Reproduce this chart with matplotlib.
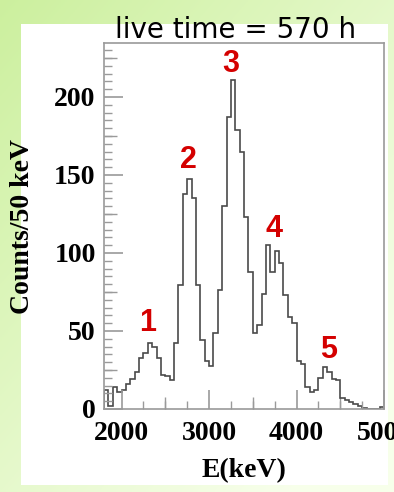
import numpy as np
import matplotlib
matplotlib.use('Agg')
import matplotlib.pyplot as plt
from matplotlib.ticker import MultipleLocator
from matplotlib.patches import Rectangle

# Histogram data: counts per 50 keV bin, 1800-5000 keV
bin_width = 50
e_min = 1800
counts = [12, 2, 14, 11, 12, 16, 19, 24, 32.5, 35.7,
          42, 40, 32.5, 21.5, 21, 18.6, 42.5, 79.5, 137.5, 147.5,
          135, 79.5, 44, 31, 27.6, 49, 76, 130, 187, 211,
          179, 165, 123, 88, 49, 54, 73.5, 105, 88, 101,
          93.4, 73, 59, 55, 31, 29, 14.3, 11, 12, 19.7,
          26.7, 24, 19.5, 18.5, 6.8, 5.8, 4.7, 3.2, 1.9, 0.6,
          0, 0, 0, 1]
edges = e_min + bin_width * np.arange(len(counts) + 1)

# Peak labels
peak_names = ['1', '2', '3', '4', '5']
peak_x = [2304, 2766, 3244, 3738, 4365]
peak_y = [55, 159.6, 221, 115.4, 37.8]

W, H = 394, 492
fig = plt.figure(figsize=(W / 100, H / 100), dpi=100)

# green gradient background
bg = fig.add_axes([0, 0, 1, 1], zorder=-10)
yy, xx = np.mgrid[0:1:200j, 0:1:200j]
t = np.clip(0.55 * xx + 0.6 * yy, 0, 1)[..., None]
c0 = np.array([0.80, 0.94, 0.62])
c1 = np.array([0.97, 1.0, 0.92])
bg.imshow(c0 * (1 - t) + c1 * t, extent=[0, 1, 0, 1], aspect='auto', origin='upper')
bg.add_patch(Rectangle((21 / W, 1 - 485 / H), (388 - 21) / W, (485 - 24) / H,
                       facecolor='white', edgecolor='none'))
bg.set_xlim(0, 1)
bg.set_ylim(0, 1)
bg.axis('off')

ax = fig.add_axes([104 / W, 1 - 409 / H, 280 / W, 366 / H])
ax.stairs(counts, edges, color='#4a4a4a', lw=1.2)

ax.set_xlim(1800, 5000)
ax.set_ylim(0, 234.6)

for s in ax.spines.values():
    s.set_color('#9a9a9a')
    s.set_linewidth(1.2)

serif = {'family': 'Liberation Serif', 'weight': 'bold', 'size': 20}
ax.xaxis.set_major_locator(MultipleLocator(1000))
ax.xaxis.set_minor_locator(MultipleLocator(250))
ax.yaxis.set_major_locator(MultipleLocator(50))
ax.yaxis.set_minor_locator(MultipleLocator(5))
ax.tick_params(which='both', direction='in', color='#9a9a9a', top=False, right=False)
ax.tick_params(which='major', length=14, width=1.2, pad=6)
ax.tick_params(which='minor', length=6, width=1.0)
ax.tick_params(axis='x', which='major', pad=9)
for lab in ax.get_xticklabels() + ax.get_yticklabels():
    lab.set_fontproperties(serif)

# medium ticks at 500 keV and 25 counts
secx = ax.secondary_xaxis('bottom')
secx.set_xticks([2500, 3500, 4500])
secx.tick_params(direction='in', length=9, width=1.0, color='#9a9a9a', labelbottom=False)
secx.spines['bottom'].set_visible(False)
secy = ax.secondary_yaxis('left')
secy.set_yticks([25, 75, 125, 175, 225])
secy.tick_params(direction='in', length=9, width=1.0, color='#9a9a9a', labelleft=False)
secy.spines['left'].set_visible(False)

ax.set_xlabel('E(keV)', fontdict=serif, labelpad=8)
ax.set_ylabel('Counts/50 keV', fontdict=serif)
ax.yaxis.set_label_coords(-0.246, 0.5)

for name, x, y in zip(peak_names, peak_x, peak_y):
    ax.text(x, y, name, color='#d40000', ha='center', va='center',
            fontsize=22, fontweight='bold', family='Liberation Sans')

fig.text(235.5 / W, 1 - 38 / H, 'live time = 570 h', ha='center', va='baseline',
         fontsize=20, family='DejaVu Sans')

fig.savefig('out.png', dpi=100)
